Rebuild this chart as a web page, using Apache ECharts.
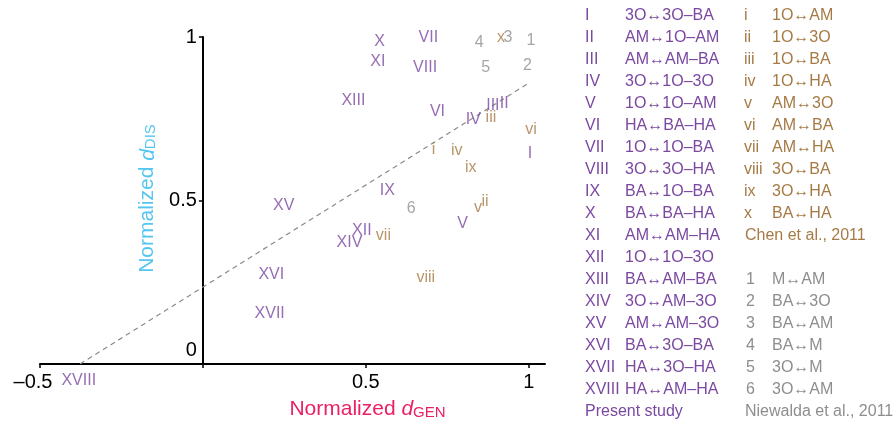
<!DOCTYPE html>
<html><head><meta charset="utf-8">
<script src="https://cdn.jsdelivr.net/npm/echarts@6/dist/echarts.min.js"></script>
<style>html,body{margin:0;padding:0;background:#fff}#c{width:894px;height:426px}</style>
</head><body><div id="c"></div>
<script>
// ---- data ----
const presentLabels = ['I','II','III','IV','V','VI','VII','VIII','IX','X','XI','XII','XIII','XIV','XV','XVI','XVII','XVIII'];
const presentX = [1.004,0.925,0.890,0.830,0.797,0.720,0.692,0.682,0.566,0.542,0.537,0.488,0.462,0.450,0.248,0.210,0.205,-0.381];
const presentY = [0.642,0.797,0.789,0.746,0.430,0.772,0.999,0.907,0.530,0.986,0.925,0.408,0.807,0.372,0.483,0.272,0.155,-0.052];
const chenLabels = ['i','ii','iii','iv','v','vi','vii','viii','ix','x'];
const chenX = [0.708,0.866,0.884,0.779,0.844,1.007,0.554,0.684,0.822,0.915];
const chenY = [0.657,0.498,0.754,0.654,0.479,0.716,0.394,0.265,0.601,0.999];
const niewLabels = ['1','2','3','4','5','6'];
const niewX = [1.007,0.996,0.936,0.848,0.868,0.639];
const niewY = [0.989,0.914,0.999,0.983,0.907,0.474];
const fitX = [-0.377, 1.0];
const fitY = [0, 0.859];
const xTicks = [-0.5, 0.5, 1];
const yTicks = [0, 0.5, 1];
const presentPairs = ['3O\u21943O\u2013BA','AM\u21941O\u2013AM','AM\u2194AM\u2013BA','3O\u21941O\u20133O','1O\u21941O\u2013AM','HA\u2194BA\u2013HA','1O\u21941O\u2013BA','3O\u21943O\u2013HA','BA\u21941O\u2013BA','BA\u2194BA\u2013HA','AM\u2194AM\u2013HA','1O\u21941O\u20133O','BA\u2194AM\u2013BA','3O\u2194AM\u20133O','AM\u2194AM\u20133O','BA\u21943O\u2013BA','HA\u21943O\u2013HA','HA\u2194AM\u2013HA'];
const chenPairs = ['1O\u2194AM','1O\u21943O','1O\u2194BA','1O\u2194HA','AM\u21943O','AM\u2194BA','AM\u2194HA','3O\u2194BA','3O\u2194HA','BA\u2194HA'];
const niewPairs = ['M\u2194AM','BA\u21943O','BA\u2194AM','BA\u2194M','3O\u2194M','3O\u2194AM'];
const sourceNames = ['Present study','Chen et al., 2011','Niewalda et al., 2011'];

const PURPLE = '#7a48a0', BROWN = '#a67a45', GREY = '#8e8e8e';
const FONT = '"Liberation Sans", Arial, sans-serif';

const X_MIN = -0.5, X_MAX = 1.05;
const GRID_LEFT = 40, GRID_RIGHT = 349, W = 894;
const gridWidth = W - GRID_LEFT - GRID_RIGHT;
// shift the y axis to x = 0 of the x scale
const yAxisOffset = -((0 - X_MIN) / (X_MAX - X_MIN) * gridWidth);

function textSeries(labels, xs, ys, color) {
  return {
    type: 'scatter', symbolSize: 0, clip: false, silent: true,
    data: labels.map((l, i) => ({ name: l, value: [xs[i], ys[i]] })),
    label: { show: true, position: 'inside', formatter: p => p.name, color: color, fontSize: 16, fontFamily: FONT }
  };
}

// legend graphics
const rowY = k => 17 + 22 * k;
const g = [];
function txt(x, y, s, color) {
  g.push({ type: 'text', left: x, top: y - 9, style: { text: s, fill: color, font: '16px ' + FONT } });
}
presentLabels.forEach((l, k) => { txt(585, rowY(k), l, PURPLE); txt(625, rowY(k), presentPairs[k], PURPLE); });
txt(585, rowY(18), sourceNames[0], PURPLE);
chenLabels.forEach((l, k) => { txt(744, rowY(k), l, BROWN); txt(772, rowY(k), chenPairs[k], BROWN); });
txt(745, rowY(10), sourceNames[1], BROWN);
niewLabels.forEach((l, k) => { txt(746, rowY(12 + k), l, GREY); txt(772, rowY(12 + k), niewPairs[k], GREY); });
txt(745, rowY(18), sourceNames[2], GREY);

function titleRich(color) {
  return {
    a: { fontSize: 21, color: color, verticalAlign: 'bottom', lineHeight: 25 },
    d: { fontSize: 21, color: color, fontStyle: 'italic', verticalAlign: 'bottom', lineHeight: 25 },
    s: { fontSize: 15, color: color, verticalAlign: 'bottom', lineHeight: 19 }
  };
}

const chart = echarts.init(document.getElementById('c'));
chart.setOption({
  animation: false,
  textStyle: { fontFamily: FONT },
  grid: { left: GRID_LEFT, right: GRID_RIGHT, top: 37, bottom: 62, containLabel: false, outerBoundsMode: 'none' },
  xAxis: {
    type: 'value', min: X_MIN, max: X_MAX, interval: 0.5,
    splitLine: { show: false },
    axisLine: { onZero: false, lineStyle: { color: '#000', width: 2 } },
    axisTick: { show: true, length: 4, lineStyle: { color: '#000', width: 1.5 } },
    axisLabel: {
      color: '#000', fontSize: 20, margin: 8, showMaxLabel: false,
      formatter: v => xTicks.includes(v) ? (v < 0 ? '{n|\u2013' + Math.abs(v) + '}' : String(v)) : '',
      rich: { n: { fontSize: 20, color: '#000', padding: [0, 14, 0, 0] } }
    },
    name: '{a|Normalized }{d|d}{s|GEN}', nameLocation: 'middle', nameGap: 31,
    nameTextStyle: { padding: [0, 0, 0, 150], rich: titleRich('#ec1e63') }
  },
  yAxis: {
    type: 'value', min: 0, max: 1, interval: 0.5, position: 'left', offset: yAxisOffset,
    splitLine: { show: false },
    axisLine: { onZero: false, lineStyle: { color: '#000', width: 2 } },
    axisTick: { show: true, length: 4, lineStyle: { color: '#000', width: 1.5 } },
    axisLabel: {
      color: '#000', fontSize: 20, margin: 6,
      formatter: v => yTicks.includes(v) ? (v === 0 ? '{z|0}' : String(v)) : '',
      rich: { z: { fontSize: 20, color: '#000', padding: [0, 0, 28, 0] } }
    },
    name: '{a|Normalized }{d|d}{s|DIS}', nameLocation: 'middle', nameGap: 43, nameRotate: 90,
    nameTextStyle: { padding: [0, 0, 0, 4], rich: titleRich('#55c6ef') }
  },
  graphic: g,
  series: [
    { type: 'line', data: fitX.map((x, i) => [x, fitY[i]]), symbol: 'none', silent: true,
      lineStyle: { color: '#8a8a8a', width: 1.2, type: [5, 4] }, z: 1 },
    textSeries(presentLabels, presentX, presentY, PURPLE),
    textSeries(chenLabels, chenX, chenY, BROWN),
    textSeries(niewLabels, niewX, niewY, GREY)
  ]
});
</script>
</body></html>
